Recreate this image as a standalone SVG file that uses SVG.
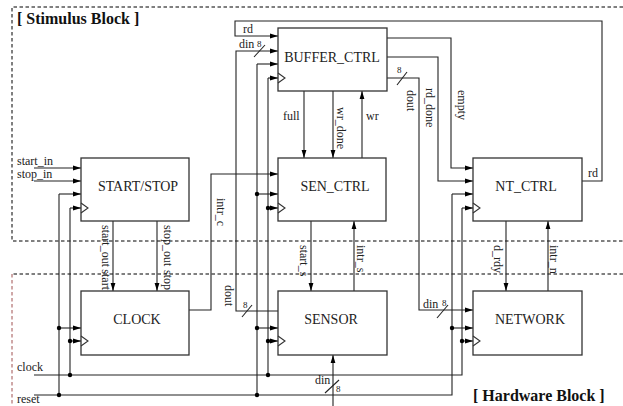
<svg xmlns="http://www.w3.org/2000/svg" width="623" height="406" viewBox="0 0 623 406">
<style>
.blk{fill:none;stroke:#000;stroke-width:1;stroke-dasharray:3.5 2.5}
.box{fill:#fff;stroke:#333;stroke-width:1.3}
.w{fill:none;stroke:#222;stroke-width:1.1}
.a{fill:none;stroke:#222;stroke-width:1.1;marker-end:url(#ah)}
.ck{fill:none;stroke:#333;stroke-width:1.1}
.t{font-family:"Liberation Serif",serif;font-size:14px;fill:#222;text-anchor:middle}
.l{font-family:"Liberation Serif",serif;font-size:12px;fill:#222}
.n{font-family:"Liberation Serif",serif;font-size:9px;fill:#222}
.h{font-family:"Liberation Serif",serif;font-size:16px;font-weight:bold;fill:#111}
.d{fill:#000}
</style>
<defs>
<marker id="ah" viewBox="0 0 8 6" refX="8" refY="3" markerWidth="8" markerHeight="6" markerUnits="userSpaceOnUse" orient="auto"><path d="M0,0.6 L8,3 L0,5.4 z" fill="#000"/></marker>
</defs>
<rect width="623" height="406" fill="#fff"/>

<g id="stimulus-block">
<path class="blk" d="M623,7 H12 V241 H623"/>
<text class="h" x="17" y="24">[ Stimulus Block ]</text>
</g>
<g id="hardware-block">
<path class="blk" d="M623,274 H12"/>
<path class="blk" d="M12,274 V406" style="stroke:#a05050"/>
<text class="h" x="473" y="401">[ Hardware Block ]</text>
</g>

<g id="connectors">
<!-- external inputs -->
<path class="a" d="M34,168 H81"/>
<path class="a" d="M34,181 H81"/>
<text class="l" x="17" y="165">start_in</text>
<text class="l" x="17" y="178">stop_in</text>
<!-- clock / reset buses -->
<path class="w" d="M34,375 H462 V208"/>
<path class="w" d="M34,395 H452 V194"/>
<text class="l" x="17" y="371">clock</text>
<text class="l" x="17" y="403">reset</text>
<!-- column 1 -->
<path class="w" d="M59,194 V395"/>
<path class="w" d="M70,208 V375"/>
<path class="a" d="M59,194 H81"/>
<path class="a" d="M70,208 H81"/>
<path class="a" d="M59,328 H81"/>
<path class="a" d="M70,341 H81"/>
<!-- column 2 -->
<path class="w" d="M257,64 V395"/>
<path class="w" d="M268,78 V375"/>
<path class="a" d="M257,64 H278"/>
<path class="a" d="M268,78 H278"/>
<path class="a" d="M257,194 H278"/>
<path class="a" d="M268,208 H278"/>
<path class="a" d="M257,328 H278"/>
<path class="a" d="M268,341 H278"/>
<!-- column 3 -->
<path class="a" d="M452,194 H473"/>
<path class="a" d="M462,208 H473"/>
<path class="a" d="M452,328 H473"/>
<path class="a" d="M462,341 H473"/>
<!-- dots -->
<circle class="d" cx="59" cy="328" r="2.2"/>
<circle class="d" cx="70" cy="341" r="2.2"/>
<circle class="d" cx="59" cy="395" r="2.2"/>
<circle class="d" cx="70" cy="375" r="2.2"/>
<circle class="d" cx="257" cy="194" r="2.2"/>
<circle class="d" cx="268" cy="208" r="2.2"/>
<circle class="d" cx="257" cy="328" r="2.2"/>
<circle class="d" cx="268" cy="341" r="2.2"/>
<circle class="d" cx="257" cy="395" r="2.2"/>
<circle class="d" cx="268" cy="375" r="2.2"/>
<circle class="d" cx="452" cy="328" r="2.2"/>
<circle class="d" cx="462" cy="341" r="2.2"/>
<!-- START/STOP -> CLOCK -->
<path class="a" d="M113,221 V291"/>
<path class="a" d="M157,221 V291"/>
<text class="l" transform="translate(102,225) rotate(90)">start_out</text>
<text class="l" transform="translate(102,290) rotate(90)" text-anchor="end">start</text>
<text class="l" transform="translate(163.5,225) rotate(90)">stop_out</text>
<text class="l" transform="translate(163.5,290) rotate(90)" text-anchor="end">stop</text>
<!-- CLOCK -> SEN_CTRL intr_c -->
<path class="a" d="M189,310 H211 V174 H278"/>
<text class="l" transform="translate(217,198) rotate(90)">intr_c</text>
<!-- rd loop -->
<path class="a" d="M582,181 H602 V21 H235 V36 H278"/>
<text class="l" x="243" y="33">rd</text>
<text class="l" x="588" y="177">rd</text>
<!-- SENSOR dout -> BUFFER din -->
<path class="a" d="M278,311 H236 V51 H278"/>
<text class="l" x="239" y="48">din</text>
<text class="n" x="257" y="47">8</text>
<path class="w" d="M254,57 L265,45"/>
<text class="l" transform="translate(225,285) rotate(90)">dout</text>
<text class="n" x="243" y="308">8</text>
<path class="w" d="M242,317 L252,305"/>
<!-- BUFFER <-> SEN_CTRL -->
<path class="a" d="M304,91 V158"/>
<path class="a" d="M333,91 V158"/>
<path class="a" d="M362,158 V91"/>
<text class="l" x="283" y="120">full</text>
<text class="l" transform="translate(337,107) rotate(90)">wr_done</text>
<text class="l" x="366" y="120">wr</text>
<!-- BUFFER -> NT_CTRL / NETWORK -->
<path class="a" d="M387,38 H451 V168 H473"/>
<path class="a" d="M387,57 H438 V181 H473"/>
<path class="a" d="M387,78 H419 V310 H473"/>
<text class="l" transform="translate(458,90) rotate(90)">empty</text>
<text class="l" transform="translate(426,88) rotate(90)">rd_done</text>
<text class="l" transform="translate(407,90) rotate(90)">dout</text>
<text class="n" x="397" y="73">8</text>
<path class="w" d="M397,85 L407,72"/>
<text class="l" x="423" y="308">din</text>
<text class="n" x="442" y="306">8</text>
<path class="w" d="M437,318 L448,305"/>
<!-- SEN_CTRL <-> SENSOR -->
<path class="a" d="M311,221 V291"/>
<path class="a" d="M354,291 V221"/>
<text class="l" transform="translate(300,245) rotate(90)">start_s</text>
<text class="l" transform="translate(357,245) rotate(90)">intr_s</text>
<!-- SENSOR din -->
<path class="a" d="M333,406 V355"/>
<text class="l" x="315" y="384">din</text>
<text class="n" x="336" y="392">8</text>
<path class="w" d="M325,393 L339,380"/>
<!-- NT_CTRL <-> NETWORK -->
<path class="a" d="M506,221 V291"/>
<path class="a" d="M548,291 V221"/>
<text class="l" transform="translate(494,245) rotate(90)">d_rdy</text>
<text class="l" transform="translate(550,245) rotate(90)">intr_n</text>
</g>

<g id="BUFFER_CTRL">
<rect class="box" x="278" y="28" width="109" height="63"/>
<polyline class="ck" points="278,73 285,78 278,83"/>
<text class="t" x="332" y="62">BUFFER_CTRL</text>
</g>
<g id="START_STOP">
<rect class="box" x="81" y="158" width="108" height="63"/>
<polyline class="ck" points="81,203 88,208 81,213"/>
<text class="t" x="138" y="191">START/STOP</text>
</g>
<g id="SEN_CTRL">
<rect class="box" x="278" y="158" width="108" height="63"/>
<polyline class="ck" points="278,203 285,208 278,213"/>
<text class="t" x="335" y="191">SEN_CTRL</text>
</g>
<g id="NT_CTRL">
<rect class="box" x="473" y="158" width="109" height="63"/>
<polyline class="ck" points="473,203 480,208 473,213"/>
<text class="t" x="526" y="191">NT_CTRL</text>
</g>
<g id="CLOCK">
<rect class="box" x="81" y="291" width="108" height="64"/>
<polyline class="ck" points="81,336 88,341 81,346"/>
<text class="t" x="137" y="324">CLOCK</text>
</g>
<g id="SENSOR">
<rect class="box" x="278" y="291" width="109" height="64"/>
<polyline class="ck" points="278,336 285,341 278,346"/>
<text class="t" x="331" y="324">SENSOR</text>
</g>
<g id="NETWORK">
<rect class="box" x="473" y="291" width="109" height="64"/>
<polyline class="ck" points="473,336 480,341 473,346"/>
<text class="t" x="530" y="324">NETWORK</text>
</g>
</svg>
